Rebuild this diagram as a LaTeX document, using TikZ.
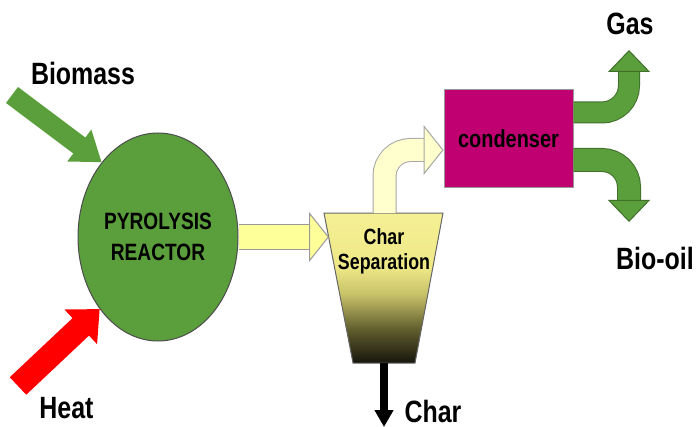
\documentclass[tikz,border=0pt]{standalone}
\usepackage{fontspec}
\setmainfont[FakeStretch=0.81]{Liberation Sans}
\usetikzlibrary{calc,arrows.meta,shapes.geometric}

\definecolor{reactorgreen}{RGB}{91,158,60}
\definecolor{flowyellow}{RGB}{255,255,153}
\definecolor{paleyellow}{RGB}{255,255,206}
\definecolor{condmagenta}{RGB}{192,0,112}
\definecolor{septopcol}{RGB}{245,240,148}
\definecolor{sepupcol}{RGB}{238,232,135}
\definecolor{sepmidcol}{RGB}{200,194,105}
\definecolor{seplowcol}{RGB}{95,92,45}
\definecolor{sepbotcol}{RGB}{22,22,12}

% funnel fade, the path fills 25bp..75bp
\pgfdeclareverticalshading{sepfade}{100bp}{color(0bp)=(sepbotcol); color(25bp)=(sepbotcol);
  color(36bp)=(seplowcol); color(48bp)=(sepmidcol); color(57bp)=(sepupcol);
  color(75bp)=(septopcol); color(100bp)=(septopcol)}

\begin{document}
\begin{tikzpicture}[
  x=0.5pt,y=-0.5pt,
  reactorshape/.style={ellipse, draw=black!70, fill=reactorgreen, line width=0.5pt,
    minimum width=80pt, minimum height=104pt, inner sep=0pt, align=center,
    font=\fontsize{11.8}{15.5}\selectfont\bfseries},
  condbox/.style={rectangle, draw=black!40, fill=condmagenta, line width=0.5pt,
    minimum width=64.5pt, minimum height=49pt, inner sep=0pt,
    font=\fontsize{12.3}{14}\selectfont\bfseries},
  septext/.style={align=center, inner sep=0pt, font=\fontsize{11}{12.5}\selectfont\bfseries},
  label/.style={anchor=base, inner sep=0pt, font=\fontsize{15.4}{18}\selectfont\bfseries},
  outline/.style={draw=#1, line width=0.5pt}
]
\useasboundingbox (0,0) rectangle (700,427);

% Fixed points of the flow
\coordinate (biotail) at (12,95);
\coordinate (heattail) at (18,386);
\coordinate (septl) at (324,213);
\coordinate (septr) at (443,213);
\coordinate (sepbr) at (415,363);
\coordinate (sepbl) at (353,363);
\coordinate (septop) at (384.5,213);
\coordinate (sepin) at (329,237);
\coordinate (sepbot) at (384,363);
\coordinate (chartip) at (384,427);
\coordinate (gastip) at (629,50);
\coordinate (oiltip) at (629,222);

% Char separation funnel
\shade[shading=sepfade, draw=black!60, line width=0.5pt] (septl) -- (septr) -- (sepbr) -- (sepbl) -- cycle;
\node[septext] (sep) at (384,251) {Char\\Separation};

% Units
\node[reactorshape] (reactor) at (158,237) {PYROLYSIS\\REACTOR};
\node[condbox] (cond) at (508.5,139) {condenser};

% Labels
\node[label] (biomass) at (83,85) {Biomass};
\node[label] (heat) at (66.5,418) {Heat};
\node[label] (char) at (433,422) {Char};
\node[label] (gas) at (630,35) {Gas};
\node[label] (biooil) at (655,269) {Bio-oil};

% Feed streams
\draw[draw=reactorgreen, line width=10pt, -{Triangle[width=19pt,length=14pt]}] (biotail) -- (reactor.127);
\draw[draw=red, line width=12pt, -{Triangle[width=23pt,length=13pt]}] (heattail) -- (reactor.231);

% Vapour to separation and condenser
\draw[outline=black!40, double=flowyellow, double distance=12pt,
  -{Triangle[width=25pt,length=10pt,fill=flowyellow,color=black!40,line width=0.5pt]}] (reactor.east) -- (sepin);
\draw[outline=black!35, double=paleyellow, double distance=11pt, rounded corners=13pt,
  -{Triangle[width=25pt,length=10pt,fill=paleyellow,color=black!35,line width=0.5pt]}] (septop) |- ([yshift=-5.5pt]cond.west);

% Products
\draw[outline=reactorgreen!70!black, double=reactorgreen, double distance=10pt, rounded corners=13.5pt,
  -{Triangle[width=21pt,length=11pt,fill=reactorgreen,color=reactorgreen!70!black,line width=0.5pt]}] ([yshift=13.25pt]cond.east) -| (gastip);
\draw[outline=reactorgreen!70!black, double=reactorgreen, double distance=11pt, rounded corners=13.5pt,
  -{Triangle[width=21pt,length=11pt,fill=reactorgreen,color=reactorgreen!70!black,line width=0.5pt]}] ([yshift=-10.5pt]cond.east) -| (oiltip);
\draw[draw=black, line width=4pt, -{Triangle[width=9pt,length=8.5pt]}] (sepbot) -- (chartip);

\end{tikzpicture}
\end{document}
